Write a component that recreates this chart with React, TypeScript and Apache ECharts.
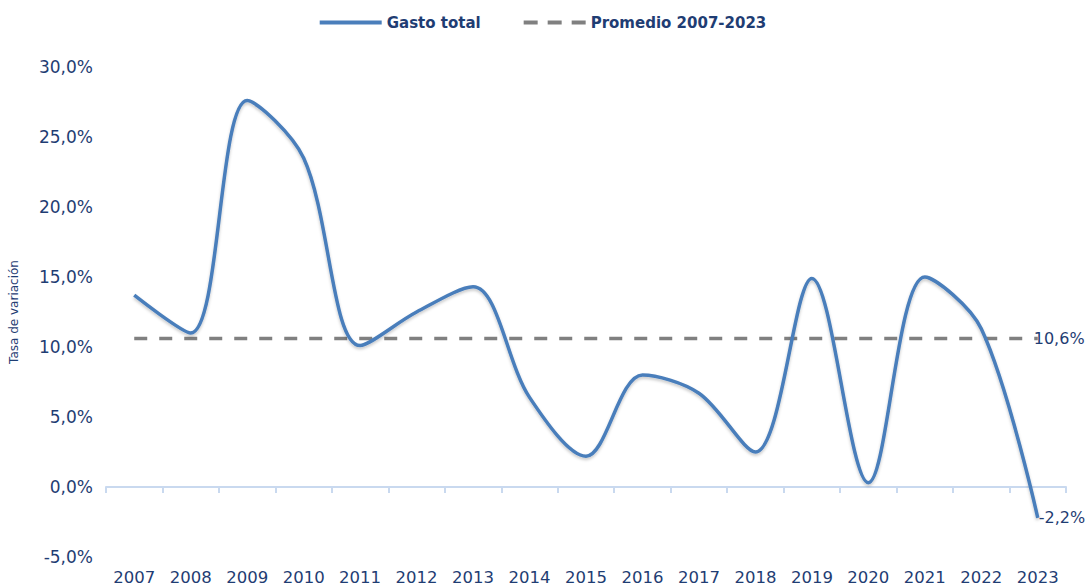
import React, { useEffect, useRef } from "react";
import * as echarts from "echarts";

const years = ["2007","2008","2009","2010","2011","2012","2013","2014","2015","2016","2017","2018","2019","2020","2021","2022","2023"];
const gastoTotal = [13.7, 11.0, 27.6, 23.5, 10.1, 12.5, 14.3, 6.4, 2.2, 8.0, 6.7, 2.5, 14.9, 0.3, 15.0, 11.3, -2.2];
const promedioValue = 10.6;
const promedio = years.map(() => promedioValue);
const yMin = -5;
const yMax = 30;
const yStep = 5;

const NAVY = "#1f3d73";
const BLUE = "#4a7ebb";
const GRAY = "#808080";
const FONT = "'DejaVu Sans', Verdana, sans-serif";
const fmt = (v: number) => v.toFixed(1).replace(".", ",") + "%";

const ICON_SOLID = "path://M0,0h62v4h-62z";
const ICON_DASH = "path://M0,0h14v4h-14z M24,0h14v4h-14z M48,0h14v4h-14z";

export default function App() {
  const ref = useRef<HTMLDivElement>(null);
  useEffect(() => {
    if (!ref.current) return;
    const chart = echarts.init(ref.current, undefined, { renderer: "svg" });
    chart.setOption({
      animation: false,
      backgroundColor: "#ffffff",
      textStyle: { fontFamily: FONT },
      legend: {
        top: 10,
        left: "center",
        itemWidth: 62,
        itemHeight: 4,
        itemGap: 43,
        textStyle: { color: NAVY, fontSize: 15, fontWeight: "bold", fontFamily: FONT },
        data: [
          { name: "Gasto total", icon: ICON_SOLID, itemStyle: { color: BLUE } },
          { name: "Promedio 2007-2023", icon: ICON_DASH, itemStyle: { color: GRAY } },
        ],
      },
      grid: { left: 105, right: 20, top: 67, bottom: 31, containLabel: false },
      xAxis: [
        {
          type: "category",
          data: years,
          boundaryGap: true,
          position: "bottom",
          axisLine: { show: false, onZero: false },
          axisTick: { show: false },
          axisLabel: { color: NAVY, fontSize: 16.5, margin: 12, fontFamily: FONT, interval: 0 },
        },
        {
          type: "category",
          data: years,
          boundaryGap: true,
          position: "bottom",
          axisLine: { show: true, onZero: true, lineStyle: { color: "#c9d9ef", width: 2 } },
          axisTick: { show: true, inside: false, length: 6, lineStyle: { color: "#c9d9ef", width: 2 } },
          axisLabel: { show: false },
        },
      ],
      yAxis: {
        type: "value",
        min: yMin,
        max: yMax,
        interval: yStep,
        name: "Tasa de variación",
        nameLocation: "middle",
        nameGap: 86,
        nameTextStyle: { color: NAVY, fontSize: 12, fontFamily: FONT },
        axisLine: { show: false },
        axisTick: { show: false },
        splitLine: { show: false },
        axisLabel: { color: NAVY, fontSize: 17, margin: 13, fontFamily: FONT, formatter: (v: number) => fmt(v) },
      },
      series: [
        {
          name: "Gasto total",
          type: "line",
          xAxisIndex: 0,
          data: gastoTotal,
          smooth: 0.33,
          symbol: "none",
          z: 3,
          itemStyle: { color: BLUE },
          lineStyle: { color: BLUE, width: 3.5, shadowColor: "rgba(0,0,0,0.22)", shadowBlur: 3, shadowOffsetY: 2 },
          endLabel: {
            show: true,
            distance: 1,
            formatter: (p: any) => fmt(p.value),
            color: NAVY,
            fontSize: 16,
            fontFamily: FONT,
          },
        },
        {
          name: "Promedio 2007-2023",
          type: "line",
          xAxisIndex: 0,
          data: promedio,
          symbol: "none",
          z: 2,
          itemStyle: { color: GRAY },
          lineStyle: { color: GRAY, width: 3.5, type: [13, 12] },
          endLabel: {
            show: true,
            distance: 0,
            offset: [-4, 0],
            formatter: (p: any) => fmt(p.value),
            color: NAVY,
            fontSize: 16,
            fontFamily: FONT,
          },
        },
      ],
    });
    return () => chart.dispose();
  }, []);
  return <div ref={ref} style={{ width: 1086, height: 588, position: "absolute", left: 0, top: 0 }} />;
}
